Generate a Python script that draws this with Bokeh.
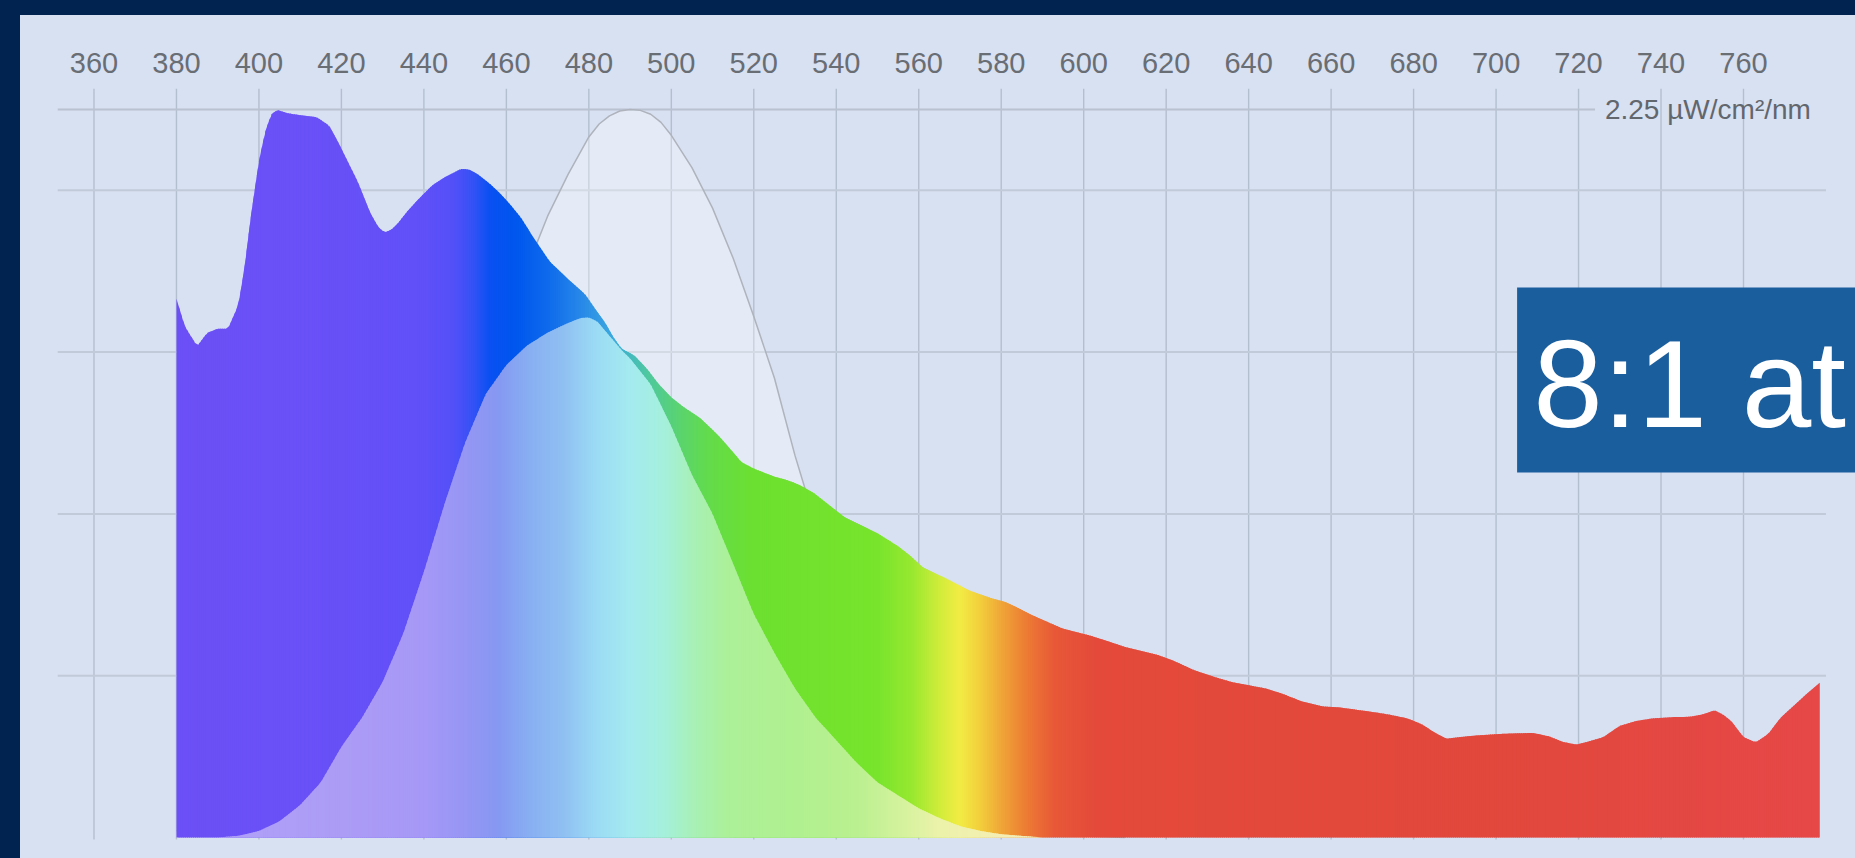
import numpy as np
from bokeh.plotting import figure
from bokeh.models import (Range1d, LinearAxis, FixedTicker, Label, BoxAnnotation,
                          ColumnDataSource, GlobalInlineStyleSheet)
from bokeh.embed import file_html
from bokeh.resources import INLINE

# ---------------- data ----------------
# main spectral power distribution (µW/cm²/nm)
spd_wl = [380, 382, 385, 387.5, 390, 392.5, 395, 396.5, 398, 400, 401.5, 403, 404.5, 407, 410,
          414, 417, 419, 421.5, 424, 427, 429, 430.5, 432, 433.5, 436, 438.5, 442, 445, 449,
          451, 453, 456, 458.5, 461, 463.5, 466.5, 470.5, 475, 479, 482, 484, 486, 488, 491,
          494, 497, 500, 503, 507, 510, 512, 515, 517, 520, 522, 525, 528, 531, 534.5, 538,
          542, 546, 550, 555, 558, 561, 567, 572.5, 578, 581, 584, 587, 590, 595, 601, 605,
          610, 618, 622, 627, 632, 636, 644, 648, 653, 658, 662, 666, 670, 674, 678.5, 682,
          685, 688, 691, 695, 701, 705, 709, 713, 716, 719.5, 722, 726, 730, 734, 738, 743,
          747, 750, 753, 755, 757, 760, 763, 766, 769, 772, 775, 778.5]
spd_val = [1.665, 1.58, 1.518, 1.56, 1.572, 1.572, 1.645, 1.76, 1.916, 2.09, 2.18, 2.235, 2.248,
           2.238, 2.232, 2.226, 2.20, 2.154, 2.09, 2.025, 1.93, 1.885, 1.870, 1.877, 1.895,
           1.935, 1.97, 2.015, 2.04, 2.066, 2.064, 2.05, 2.02, 1.99, 1.955, 1.916, 1.855, 1.78,
           1.725, 1.68, 1.625, 1.59, 1.545, 1.51, 1.49, 1.45, 1.40, 1.36, 1.33, 1.296, 1.26,
           1.234, 1.19, 1.16, 1.14, 1.13, 1.115, 1.105, 1.09, 1.065, 1.03, 0.99, 0.965, 0.94,
           0.9, 0.87, 0.835, 0.798, 0.762, 0.738, 0.728, 0.71, 0.69, 0.673, 0.645, 0.626, 0.61,
           0.589, 0.564, 0.545, 0.516, 0.495, 0.48, 0.461, 0.445, 0.42, 0.405, 0.402, 0.395,
           0.388, 0.38, 0.368, 0.35, 0.325, 0.305, 0.31, 0.315, 0.32, 0.322, 0.323, 0.312,
           0.296, 0.287, 0.295, 0.31, 0.345, 0.36, 0.368, 0.372, 0.373, 0.38, 0.393, 0.38,
           0.36, 0.31, 0.294, 0.32, 0.37, 0.405, 0.44, 0.478]

# melanopic-weighted spectrum (pastel area)
mw_wl = [390, 395, 400, 405, 410, 415, 420, 425, 430, 435, 440, 445, 450, 455, 460, 465, 470,
         475, 478, 480, 482, 485, 488, 490, 495, 500, 505, 510, 515, 520, 525, 530, 535, 540,
         545, 550, 555, 560, 565, 570, 575, 580, 590]
mw_val = [0.0, 0.005, 0.02, 0.05, 0.10, 0.17, 0.28, 0.37, 0.48, 0.63, 0.82, 1.03, 1.22, 1.37,
          1.46, 1.52, 1.56, 1.59, 1.605, 1.607, 1.595, 1.55, 1.505, 1.48, 1.40, 1.27, 1.12,
          1.0, 0.845, 0.69, 0.57, 0.46, 0.37, 0.30, 0.23, 0.17, 0.13, 0.09, 0.06, 0.035, 0.02,
          0.01, 0.0]

# melanopic sensitivity curve (scaled to the top gridline)
mel_wl = [380, 390, 400, 410, 420, 430, 440, 450, 455, 460, 465, 470, 475, 480, 482.5, 485,
          487.5, 490, 492.5, 495, 497.5, 500, 505, 510, 515, 520, 525, 530, 535, 540, 545, 550,
          560, 570, 580, 590, 600, 610]
mel_val = [0.02, 0.05, 0.11, 0.22, 0.38, 0.62, 0.92, 1.26, 1.43, 1.59, 1.76, 1.92, 2.05, 2.165,
           2.205, 2.23, 2.245, 2.25, 2.247, 2.235, 2.21, 2.17, 2.07, 1.945, 1.79, 1.61, 1.42,
           1.18, 0.97, 0.78, 0.60, 0.45, 0.23, 0.10, 0.04, 0.015, 0.005, 0.0]

tick_nm = list(range(360, 761, 20))
grid_levels = [0.5, 1.0, 1.5, 2.0]
top_level = 2.25
unit_label = "2.25 µW/cm²/nm"
box_text = "8:1 at"

# ---------------- styles ----------------
spd_stops = [(380, (108, 80, 246)), (420, (104, 80, 247)), (440, (96, 80, 248)),
             (447, (84, 80, 248)), (452, (50, 82, 246)), (456, (10, 80, 242)),
             (462, (0, 86, 238)), (470, (14, 106, 236)), (478, (40, 136, 232)),
             (486, (60, 170, 222)), (494, (78, 200, 160)), (502, (90, 212, 110)),
             (510, (100, 220, 72)), (520, (108, 224, 48)), (550, (120, 228, 44)),
             (558, (150, 232, 48)), (565, (208, 236, 58)), (570, (242, 236, 68)),
             (575, (242, 206, 60)), (580, (240, 166, 56)), (586, (236, 124, 52)),
             (593, (232, 88, 56)), (603, (228, 74, 58)), (700, (226, 72, 60)),
             (780, (230, 72, 72))]
mw_stops = [(390, (176, 160, 248)), (420, (172, 156, 246)), (440, (166, 152, 246)),
            (450, (150, 150, 244)), (458, (134, 152, 242)), (466, (136, 176, 242)),
            (474, (144, 192, 242)), (482, (156, 220, 244)), (490, (164, 234, 240)),
            (498, (164, 240, 220)), (506, (168, 240, 180)), (514, (172, 240, 152)),
            (530, (176, 240, 144)), (545, (186, 240, 144)), (555, (210, 242, 156)),
            (565, (236, 242, 170)), (580, (244, 238, 180))]

BG = "#d8e1f2"
NAVY = "#01234f"
FONT = "Liberation Sans"

# ---------------- layout ----------------
W, H = 1855, 858
X0, X1 = 337.33, 787.16
Y0, Y1 = -0.0649, 2.3146

p = figure(width=W, height=H, x_range=Range1d(X0, X1), y_range=Range1d(Y0, Y1),
           output_backend="svg", toolbar_location=None,
           x_axis_location=None, y_axis_location=None,
           min_border_left=0, min_border_right=0, min_border_bottom=0, min_border_top=88)
p.background_fill_alpha = 0
p.border_fill_alpha = 0
p.outline_line_color = None
p.xgrid.visible = False
p.ygrid.visible = False

css = ("html,body{background:"
       f"linear-gradient({NAVY},{NAVY}) 0 0/100% 15px no-repeat,"
       f"linear-gradient({NAVY},{NAVY}) 0 0/20px 100% no-repeat,{BG};}}")
p.stylesheets = [GlobalInlineStyleSheet(css=css)]

ax = LinearAxis(ticker=FixedTicker(ticks=tick_nm))
ax.axis_line_color = None
ax.major_tick_line_color = None
ax.minor_tick_line_color = None
ax.major_label_text_font = FONT
ax.major_label_text_font_size = "29px"
ax.major_label_text_color = "#696d74"
ax.major_label_standoff = 10
p.add_layout(ax, "above")

# grid lines
n = len(tick_nm)
p.segment(x0=tick_nm, y0=[-0.006] * n, x1=tick_nm, y1=[Y1] * n,
          line_color="#b3bece", line_width=1.4)
m = len(grid_levels)
p.segment(x0=[351.2] * m, y0=grid_levels, x1=[780] * m, y1=grid_levels,
          line_color="#c1cad8", line_width=2)
p.segment(x0=[351.2], y0=[top_level], x1=[724], y1=[top_level],
          line_color="#b9c2d0", line_width=2)

# melanopic sensitivity curve
p.varea(x=mel_wl, y1=0, y2=mel_val, fill_color="#ffffff", fill_alpha=0.3)
p.line(mel_wl, mel_val, line_color="#aeb3bc", line_width=1.5)


def color_at(w, stops):
    sw = [s[0] for s in stops]
    r = np.interp(w, sw, [s[1][0] for s in stops])
    g = np.interp(w, sw, [s[1][1] for s in stops])
    b = np.interp(w, sw, [s[1][2] for s in stops])
    return ["#%02x%02x%02x" % (int(round(a)), int(round(bb)), int(round(c)))
            for a, bb, c in zip(r, g, b)]


def gradient_area(wl, val, stops, step=0.5, eps=0.3):
    a = np.arange(wl[0], wl[-1], step)
    b = np.minimum(a + step + eps, wl[-1])
    fa = np.interp(a, wl, val)
    fb = np.interp(b, wl, val)
    xs = [[x0, x0, x1, x1] for x0, x1 in zip(a, b)]
    ys = [[0, y0, y1, 0] for y0, y1 in zip(fa, fb)]
    cols = color_at((a + a + step) / 2, stops)
    src = ColumnDataSource(dict(xs=xs, ys=ys, c=cols))
    p.patches(xs="xs", ys="ys", fill_color="c", line_color=None, source=src)


gradient_area(spd_wl, spd_val, spd_stops)
gradient_area(mw_wl, mw_val, mw_stops)

# unit label at the top gridline
p.add_layout(Label(x=726.4, y=top_level, text=unit_label, text_baseline="middle",
                   text_align="left", text_font=FONT, text_font_size="28px",
                   text_color="#62666d"))

# highlighted box
p.add_layout(BoxAnnotation(left=705.1, right=800, bottom=1.128, top=1.700,
                           fill_color="#1b5e9d", fill_alpha=1.0, line_color=None))
p.add_layout(Label(x=709.0, y=1.4045, text=box_text, text_baseline="middle",
                   text_align="left", text_font=FONT, text_font_size="125px",
                   text_color="#ffffff"))

open("out.html", "w").write(file_html(p, INLINE))
